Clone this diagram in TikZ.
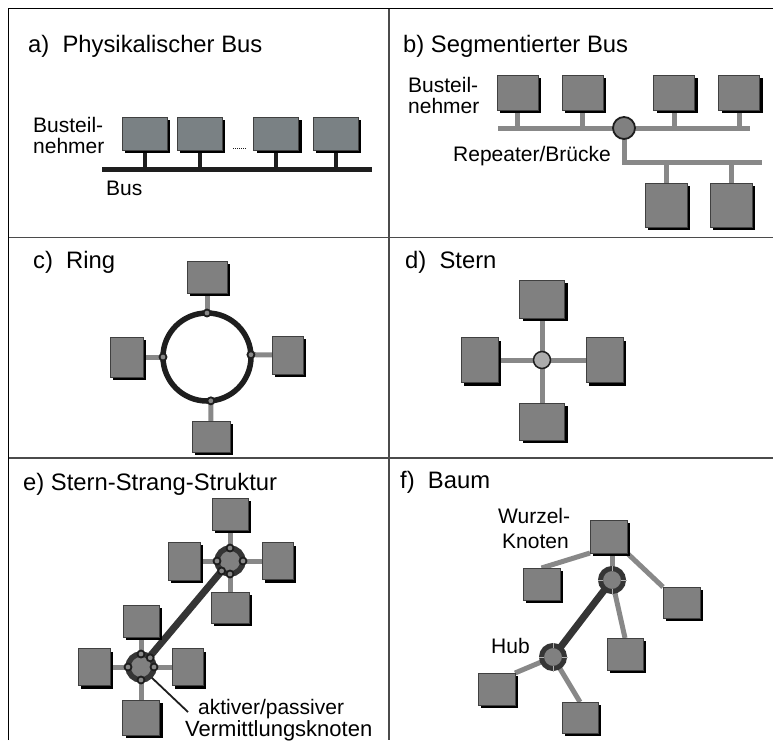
\documentclass[tikz,border=0pt]{standalone}
\usepackage{fontspec}
\setmainfont{Liberation Sans}
\usetikzlibrary{shadows}

\definecolor{boxgray}{RGB}{128,128,128}
\definecolor{boxblue}{RGB}{122,129,132}
\definecolor{linegray}{RGB}{136,136,136}
\definecolor{ink}{RGB}{30,30,30}
\definecolor{hubgray}{RGB}{172,172,172}

\pgfdeclarelayer{wires}
\pgfsetlayers{wires,main}

\tikzset{
  station/.style={draw=ink!85, line width=0.8pt, fill=boxgray, inner sep=0pt, outer sep=0pt,
    drop shadow={shadow xshift=3pt, shadow yshift=-3pt, fill=black, opacity=1}},
  sz/.style 2 args={minimum width=#1pt, minimum height=#2pt},
  title/.style={anchor=base west, inner sep=0pt, font=\fontsize{23.8}{28}\selectfont},
  lbl/.style={anchor=base west, inner sep=0pt, font=\fontsize{21}{25}\selectfont},
  frame/.style={line width=1.5pt, draw=ink!80},
  graywire/.style={draw=linegray, line width=5pt},
  blackwire/.style={draw=ink, line width=5pt},
  strand/.style={draw=ink!90, line width=7pt},
  tap/.style={circle, draw=ink, line width=1.8pt, fill=linegray, minimum size=7pt, inner sep=0pt},
  ehub/.style={circle, draw=ink!90, line width=5.5pt, fill=boxgray, minimum size=26pt, inner sep=0pt, outer sep=0pt},
  fhub/.style={circle, draw=ink!90, line width=5pt, fill=boxgray, minimum size=23pt, inner sep=0pt, outer sep=0pt},
  hubtick/.style={draw=gray!60, line width=0.8pt},
}

\begin{document}
\begin{tikzpicture}[x=1pt,y=-1pt]
\useasboundingbox (0,0) rectangle (773,740);

% ---------- frame ----------
\draw[frame, draw=black] (8.5,740) -- (8.5,8.5) -- (773,8.5);
\draw[frame] (389,8.5) -- (389,740);
\draw[frame] (8.5,237.5) -- (773,237.5);
\draw[frame] (8.5,458) -- (773,458);

% ---------- a) physical bus ----------
\node[title] (ta) at (28,52) {a)\ \ Physikalischer Bus};
\node[lbl] (ala) at (33,132) {Busteil-};
\node[lbl] (alb) at (33,153) {nehmer};
\node[lbl] (albus) at (106,195) {Bus};
\node[station, sz={45}{33}, fill=boxblue] (a1) at (144.5,133.5) {};
\node[station, sz={45}{33}, fill=boxblue] (a2) at (199.5,133.5) {};
\node[station, sz={45}{33}, fill=boxblue] (a3) at (276,133.5) {};
\node[station, sz={45}{33}, fill=boxblue] (a4) at (335.5,133.5) {};
\coordinate (abusL) at (102,169.5);
\coordinate (abusR) at (372,169.5);
\coordinate (adotL) at (233,148);
\coordinate (adotR) at (246,148);
\begin{pgfonlayer}{wires}
  \draw[blackwire] (abusL) -- (abusR);
  \foreach \n in {a1,a2,a3,a4}
    \draw[blackwire, line width=4pt] (\n.center) -- (\n |- abusL);
\end{pgfonlayer}
\draw[ink, line width=0.8pt, dash pattern=on 1pt off 1pt] (adotL) -- (adotR);

% ---------- b) segmented bus ----------
\node[title] (tb) at (403,52) {b) Segmentierter Bus};
\node[lbl] (bla) at (408,92) {Busteil-};
\node[lbl] (blb) at (408,113) {nehmer};
\node[lbl] (blr) at (453,161) {Repeater/Brücke};
\node[station, sz={41}{35}] (b1) at (517.5,92.5) {};
\node[station, sz={41}{35}] (b2) at (582.5,92.5) {};
\node[station, sz={41}{35}] (b3) at (674,92.5) {};
\node[station, sz={41}{35}] (b4) at (739,92.5) {};
\node[station, sz={42}{44}] (b5) at (666,205) {};
\node[station, sz={42}{44}] (b6) at (731,205) {};
\node[circle, draw=ink, line width=1.8pt, fill=boxgray, minimum size=22pt, inner sep=0pt] (rep) at (624,128) {};
\coordinate (bbusL) at (498,128);
\coordinate (bbusR) at (750,128);
\coordinate (bseg) at (762,162);
\begin{pgfonlayer}{wires}
  \draw[graywire] (bbusL) -- (bbusR);
  \foreach \n in {b1,b2,b3,b4}
    \draw[graywire] (\n.center) -- (\n |- bbusL);
  \draw[graywire, line join=miter] (rep.center) |- (bseg);
  \foreach \n in {b5,b6}
    \draw[graywire] (\n.center) -- (\n |- bseg);
\end{pgfonlayer}

% ---------- c) ring ----------
\node[title] (tc) at (33,268) {c)\ \ Ring};
\node[station, sz={40}{32}] (c1) at (207,277) {};
\node[station, sz={38}{31}] (c2) at (211,436.5) {};
\node[station, sz={33}{40}] (c3) at (126.5,357) {};
\node[station, sz={31}{38}] (c4) at (287.5,355) {};
\node[circle, draw=ink, line width=5.5pt, minimum size=88pt, inner sep=0pt, outer sep=0pt] (ring) at (207,357) {};
\begin{pgfonlayer}{wires}
  \draw[graywire] (c1.center) -- (ring.90);
  \draw[graywire] (c2.center) -- (ring.-85);
  \draw[graywire] (c3.center) -- (ring.180);
  \draw[graywire] (c4.center) -- (ring.3);
\end{pgfonlayer}
\foreach \a in {90,-85,180,3}
  \node[tap] at (ring.\a) {};

% ---------- d) star ----------
\node[title] (td) at (405,268) {d)\ \ Stern};
\node[station, sz={45}{38}] (d1) at (542,299) {};
\node[station, sz={45}{37}] (d2) at (542,421.5) {};
\node[station, sz={37}{45}] (d3) at (479.5,360) {};
\node[station, sz={37}{45}] (d4) at (604.5,360) {};
\node[circle, draw=ink, line width=1.5pt, fill=hubgray, minimum size=17pt, inner sep=0pt] (d0) at (542,360) {};
\begin{pgfonlayer}{wires}
  \foreach \n in {d1,d2,d3,d4}
    \draw[graywire] (d0.center) -- (\n.center);
\end{pgfonlayer}

% ---------- e) star-strand structure ----------
\node[title] (te) at (23,490) {e) Stern-Strang-Struktur};
\node[station, sz={36}{32}] (eu1) at (230,514) {};
\node[station, sz={32}{38}] (eu2) at (184,561) {};
\node[station, sz={31}{37}] (eu3) at (277.5,561) {};
\node[station, sz={38}{31}] (eu4) at (230,607.5) {};
\node[station, sz={36}{32}] (el1) at (141,621) {};
\node[station, sz={32}{37}] (el2) at (94,667) {};
\node[station, sz={31}{37}] (el3) at (187.5,667) {};
\node[station, sz={37}{35}] (el4) at (141,717.5) {};
\node[ehub] (euh) at (230,561) {};
\node[ehub] (elh) at (141,667) {};
\coordinate (eptr) at (188,712);
\begin{pgfonlayer}{wires}
  \foreach \n in {eu1,eu2,eu3,eu4}
    \draw[graywire] (euh.center) -- (\n.center);
  \foreach \n in {el1,el2,el3,el4}
    \draw[graywire] (elh.center) -- (\n.center);
  \draw[strand] (euh.center) -- (elh.center);
  \draw[ink, line width=1.8pt] (elh.-45) -- (eptr);
\end{pgfonlayer}
\foreach \a in {90,180,0,230,270}
  \node[tap] at (euh.\a) {};
\foreach \a in {90,45,180,0,270}
  \node[tap] at (elh.\a) {};
\node[lbl] (ela) at (198,714) {aktiver/passiver};
\node[lbl, font=\fontsize{22}{26}\selectfont] (elb) at (185,736.5) {Vermittlungsknoten};

% ---------- f) tree ----------
\node[title] (tf) at (400,488) {f)\ \ Baum};
\node[lbl] (fwa) at (498,523) {Wurzel-};
\node[lbl] (fwb) at (502,548) {Knoten};
\node[lbl] (fhub) at (491,653) {Hub};
\node[station, sz={37}{33}] (froot) at (608.5,536.5) {};
\node[station, sz={37}{32}] (fl1) at (541.5,584) {};
\node[station, sz={37}{31}] (fr) at (681.5,602.5) {};
\node[station, sz={36}{32}] (fm) at (625,654) {};
\node[station, sz={37}{32}] (fll) at (496.5,689) {};
\node[station, sz={36}{31}] (flb) at (580,717.5) {};
\node[fhub] (fh1) at (612,580) {};
\node[fhub] (fh2) at (553,657) {};
\begin{pgfonlayer}{wires}
  \draw[graywire] (froot.south west) -- (fl1.north);
  \draw[graywire] (froot.south east) -- (fr.north west);
  \draw[graywire] (fh1.center) -- (fh1 |- froot.center);
  \draw[graywire] (fh1.center) -- (fm.north);
  \draw[graywire] (fh2.center) -- (fll.north east);
  \draw[graywire] (fh2.center) -- (flb.north);
  \draw[strand] (fh1.center) -- (fh2.center);
\end{pgfonlayer}
\foreach \h in {fh1,fh2}
  \foreach \a in {0,90,180,270}
    \draw[hubtick] (\h.center) ++(\a:9) -- ++(\a:5.5);

\end{tikzpicture}
\end{document}
